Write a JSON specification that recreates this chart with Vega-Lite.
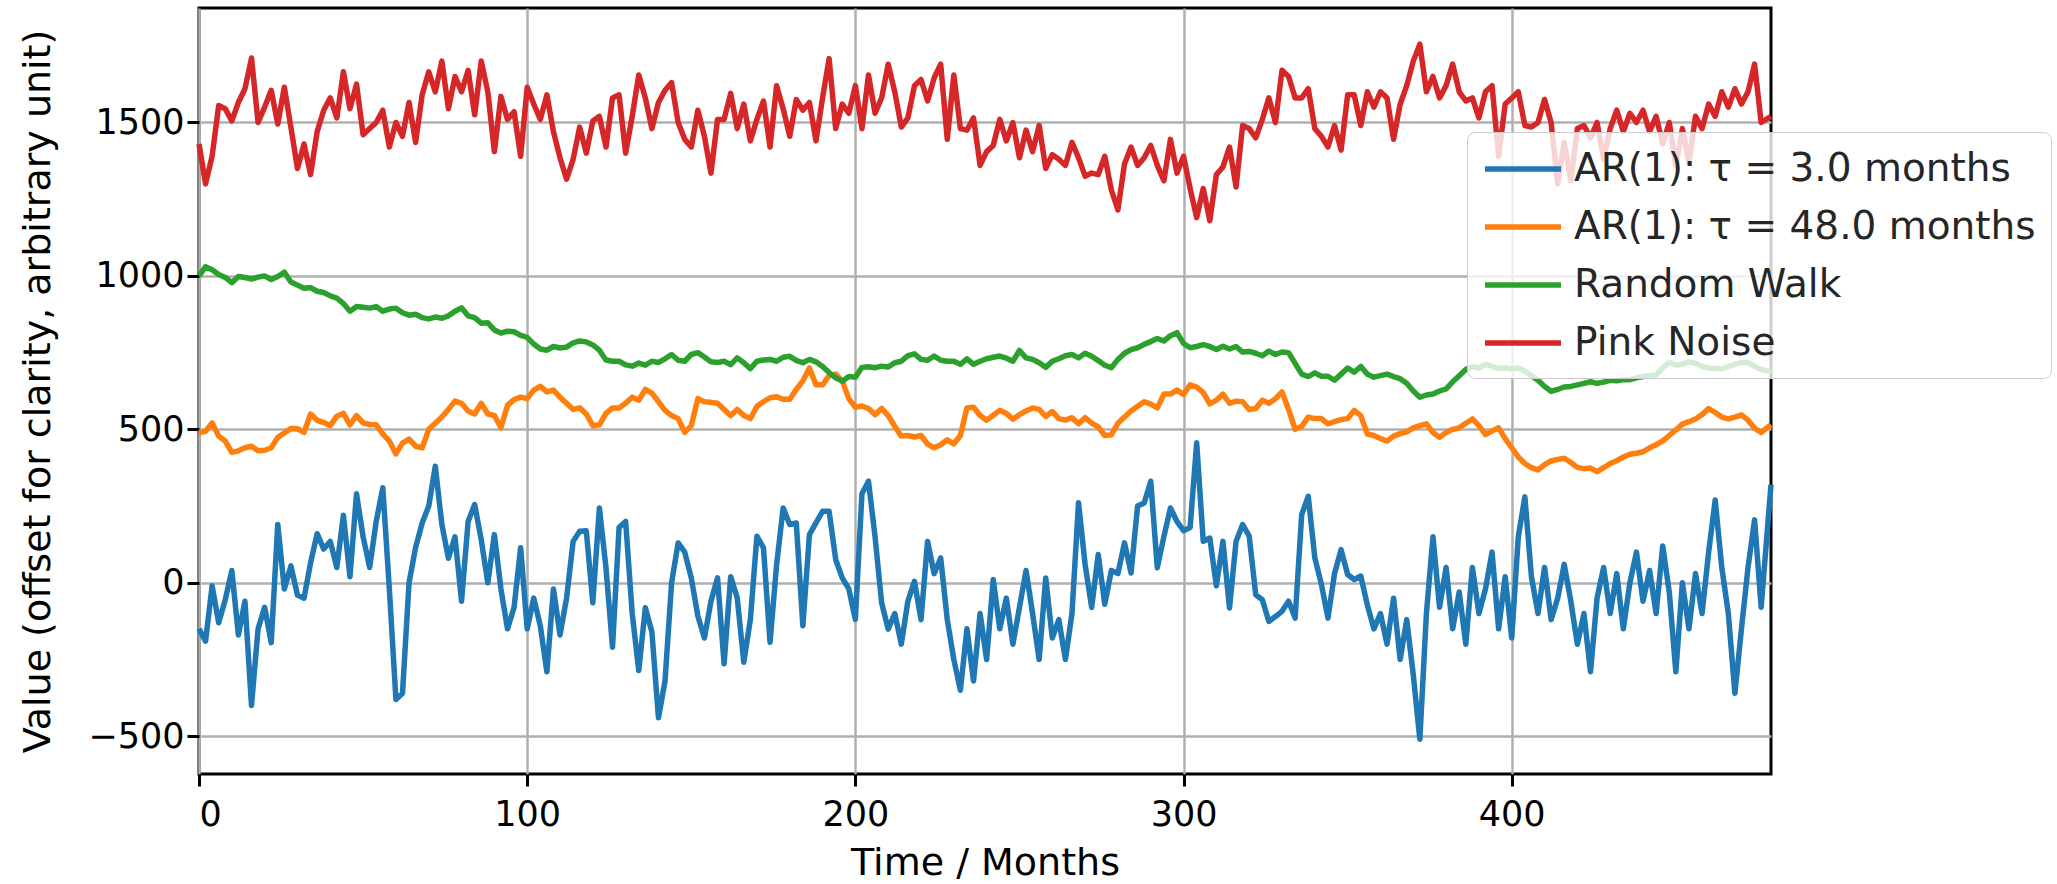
{
 "$schema": "https://vega.github.io/schema/vega-lite/v6.json",
 "width": 1572,
 "height": 766,
 "autosize": {"type": "none"},
 "padding": {"left": 199, "top": 8, "right": 286, "bottom": 110},
 "background": "white",
 "config": {
  "font": "DejaVu Sans",
  "view": {"stroke": "black", "strokeWidth": 3},
  "axis": {"labelFont": "DejaVu Sans", "titleFont": "DejaVu Sans", "labelFontSize": 35, "titleFontSize": 38, "titleFontWeight": "normal", "labelColor": "black", "titleColor": "black", "tickColor": "black", "tickSize": 12, "tickWidth": 3, "gridColor": "#b0b0b0", "gridWidth": 2.5, "gridOpacity": 1, "domain": false, "labelPadding": 11}
 },
 "data": {"values": [
{"t":0,"ar3":-150,"ar48":490,"rw":1000,"pink":1430},
{"t":2,"ar3":-190,"ar48":494,"rw":1030,"pink":1300},
{"t":4,"ar3":-10,"ar48":521,"rw":1020,"pink":1390},
{"t":6,"ar3":-130,"ar48":478,"rw":1005,"pink":1555},
{"t":8,"ar3":-55,"ar48":462,"rw":995,"pink":1545},
{"t":10,"ar3":40,"ar48":425,"rw":978,"pink":1505},
{"t":12,"ar3":-170,"ar48":430,"rw":998,"pink":1565},
{"t":14,"ar3":-60,"ar48":440,"rw":995,"pink":1610},
{"t":16,"ar3":-400,"ar48":445,"rw":990,"pink":1710},
{"t":18,"ar3":-150,"ar48":430,"rw":996,"pink":1500},
{"t":20,"ar3":-80,"ar48":432,"rw":1000,"pink":1550},
{"t":22,"ar3":-195,"ar48":440,"rw":988,"pink":1605},
{"t":24,"ar3":190,"ar48":474,"rw":998,"pink":1495},
{"t":26,"ar3":-20,"ar48":488,"rw":1012,"pink":1615},
{"t":28,"ar3":55,"ar48":503,"rw":980,"pink":1485},
{"t":30,"ar3":-40,"ar48":502,"rw":970,"pink":1350},
{"t":32,"ar3":-50,"ar48":490,"rw":960,"pink":1430},
{"t":34,"ar3":65,"ar48":550,"rw":962,"pink":1330},
{"t":36,"ar3":160,"ar48":530,"rw":950,"pink":1470},
{"t":38,"ar3":110,"ar48":522,"rw":946,"pink":1540},
{"t":40,"ar3":135,"ar48":512,"rw":935,"pink":1580},
{"t":42,"ar3":50,"ar48":543,"rw":928,"pink":1515},
{"t":44,"ar3":220,"ar48":552,"rw":910,"pink":1665},
{"t":46,"ar3":20,"ar48":515,"rw":885,"pink":1545},
{"t":48,"ar3":290,"ar48":545,"rw":900,"pink":1625},
{"t":50,"ar3":150,"ar48":521,"rw":898,"pink":1460},
{"t":52,"ar3":50,"ar48":516,"rw":895,"pink":1480},
{"t":54,"ar3":200,"ar48":515,"rw":900,"pink":1500},
{"t":56,"ar3":310,"ar48":485,"rw":885,"pink":1540},
{"t":58,"ar3":-20,"ar48":462,"rw":892,"pink":1420},
{"t":60,"ar3":-380,"ar48":420,"rw":895,"pink":1500},
{"t":62,"ar3":-360,"ar48":455,"rw":880,"pink":1455},
{"t":64,"ar3":0,"ar48":468,"rw":872,"pink":1565},
{"t":66,"ar3":115,"ar48":445,"rw":875,"pink":1435},
{"t":68,"ar3":195,"ar48":440,"rw":864,"pink":1590},
{"t":70,"ar3":250,"ar48":500,"rw":860,"pink":1665},
{"t":72,"ar3":380,"ar48":520,"rw":866,"pink":1600},
{"t":74,"ar3":190,"ar48":540,"rw":862,"pink":1700},
{"t":76,"ar3":80,"ar48":565,"rw":870,"pink":1545},
{"t":78,"ar3":150,"ar48":592,"rw":885,"pink":1650},
{"t":80,"ar3":-60,"ar48":585,"rw":896,"pink":1600},
{"t":82,"ar3":200,"ar48":560,"rw":870,"pink":1670},
{"t":84,"ar3":255,"ar48":550,"rw":864,"pink":1525},
{"t":86,"ar3":140,"ar48":585,"rw":846,"pink":1700},
{"t":88,"ar3":0,"ar48":550,"rw":847,"pink":1600},
{"t":90,"ar3":157,"ar48":545,"rw":824,"pink":1405},
{"t":92,"ar3":-20,"ar48":505,"rw":814,"pink":1585},
{"t":94,"ar3":-150,"ar48":578,"rw":820,"pink":1510},
{"t":96,"ar3":-80,"ar48":597,"rw":818,"pink":1535},
{"t":98,"ar3":114,"ar48":605,"rw":806,"pink":1390},
{"t":100,"ar3":-150,"ar48":600,"rw":800,"pink":1615},
{"t":102,"ar3":-50,"ar48":628,"rw":778,"pink":1560},
{"t":104,"ar3":-140,"ar48":640,"rw":762,"pink":1510},
{"t":106,"ar3":-290,"ar48":622,"rw":758,"pink":1590},
{"t":108,"ar3":-20,"ar48":628,"rw":770,"pink":1470},
{"t":110,"ar3":-170,"ar48":605,"rw":765,"pink":1385},
{"t":112,"ar3":-50,"ar48":585,"rw":768,"pink":1315},
{"t":114,"ar3":135,"ar48":565,"rw":782,"pink":1380},
{"t":116,"ar3":168,"ar48":570,"rw":788,"pink":1485},
{"t":118,"ar3":170,"ar48":550,"rw":785,"pink":1400},
{"t":120,"ar3":-65,"ar48":512,"rw":775,"pink":1505},
{"t":122,"ar3":244,"ar48":515,"rw":758,"pink":1520},
{"t":124,"ar3":50,"ar48":552,"rw":726,"pink":1420},
{"t":126,"ar3":-210,"ar48":570,"rw":722,"pink":1580},
{"t":128,"ar3":180,"ar48":570,"rw":722,"pink":1590},
{"t":130,"ar3":200,"ar48":585,"rw":710,"pink":1400},
{"t":132,"ar3":-100,"ar48":605,"rw":706,"pink":1520},
{"t":134,"ar3":-286,"ar48":595,"rw":716,"pink":1655},
{"t":136,"ar3":-81,"ar48":630,"rw":709,"pink":1580},
{"t":138,"ar3":-160,"ar48":618,"rw":722,"pink":1480},
{"t":140,"ar3":-440,"ar48":590,"rw":718,"pink":1565},
{"t":142,"ar3":-320,"ar48":562,"rw":730,"pink":1605},
{"t":144,"ar3":0,"ar48":545,"rw":744,"pink":1630},
{"t":146,"ar3":130,"ar48":535,"rw":725,"pink":1500},
{"t":148,"ar3":100,"ar48":490,"rw":722,"pink":1445},
{"t":150,"ar3":16,"ar48":512,"rw":744,"pink":1420},
{"t":152,"ar3":-108,"ar48":600,"rw":750,"pink":1540},
{"t":154,"ar3":-180,"ar48":590,"rw":736,"pink":1455},
{"t":156,"ar3":-60,"ar48":588,"rw":720,"pink":1335},
{"t":158,"ar3":16,"ar48":585,"rw":718,"pink":1510},
{"t":160,"ar3":-264,"ar48":565,"rw":722,"pink":1510},
{"t":162,"ar3":20,"ar48":545,"rw":711,"pink":1595},
{"t":164,"ar3":-49,"ar48":565,"rw":733,"pink":1480},
{"t":166,"ar3":-259,"ar48":545,"rw":717,"pink":1560},
{"t":168,"ar3":-120,"ar48":535,"rw":698,"pink":1440},
{"t":170,"ar3":152,"ar48":575,"rw":722,"pink":1510},
{"t":172,"ar3":114,"ar48":590,"rw":726,"pink":1570},
{"t":174,"ar3":-194,"ar48":603,"rw":728,"pink":1420},
{"t":176,"ar3":59,"ar48":606,"rw":722,"pink":1620},
{"t":178,"ar3":244,"ar48":598,"rw":735,"pink":1545},
{"t":180,"ar3":190,"ar48":598,"rw":738,"pink":1455},
{"t":182,"ar3":195,"ar48":630,"rw":725,"pink":1575},
{"t":184,"ar3":-140,"ar48":658,"rw":717,"pink":1540},
{"t":186,"ar3":157,"ar48":700,"rw":728,"pink":1565},
{"t":188,"ar3":195,"ar48":645,"rw":720,"pink":1440},
{"t":190,"ar3":233,"ar48":645,"rw":705,"pink":1580},
{"t":192,"ar3":233,"ar48":675,"rw":685,"pink":1708},
{"t":194,"ar3":76,"ar48":680,"rw":668,"pink":1480},
{"t":196,"ar3":16,"ar48":658,"rw":657,"pink":1560},
{"t":198,"ar3":-20,"ar48":600,"rw":672,"pink":1530},
{"t":200,"ar3":-119,"ar48":572,"rw":670,"pink":1620},
{"t":202,"ar3":290,"ar48":576,"rw":702,"pink":1480},
{"t":204,"ar3":331,"ar48":568,"rw":704,"pink":1655},
{"t":206,"ar3":150,"ar48":548,"rw":701,"pink":1530},
{"t":208,"ar3":-65,"ar48":568,"rw":706,"pink":1580},
{"t":210,"ar3":-151,"ar48":545,"rw":703,"pink":1690},
{"t":212,"ar3":-100,"ar48":510,"rw":717,"pink":1600},
{"t":214,"ar3":-200,"ar48":478,"rw":722,"pink":1485},
{"t":216,"ar3":-60,"ar48":480,"rw":740,"pink":1515},
{"t":218,"ar3":5,"ar48":475,"rw":746,"pink":1620},
{"t":220,"ar3":-120,"ar48":480,"rw":728,"pink":1640},
{"t":222,"ar3":135,"ar48":452,"rw":725,"pink":1570},
{"t":224,"ar3":30,"ar48":440,"rw":739,"pink":1645},
{"t":226,"ar3":81,"ar48":450,"rw":725,"pink":1690},
{"t":228,"ar3":-120,"ar48":466,"rw":722,"pink":1445},
{"t":230,"ar3":-250,"ar48":453,"rw":722,"pink":1655},
{"t":232,"ar3":-350,"ar48":480,"rw":712,"pink":1480},
{"t":234,"ar3":-150,"ar48":570,"rw":730,"pink":1475},
{"t":236,"ar3":-320,"ar48":572,"rw":712,"pink":1515},
{"t":238,"ar3":-100,"ar48":545,"rw":722,"pink":1360},
{"t":240,"ar3":-250,"ar48":530,"rw":730,"pink":1405},
{"t":242,"ar3":11,"ar48":546,"rw":735,"pink":1425},
{"t":244,"ar3":-150,"ar48":562,"rw":739,"pink":1510},
{"t":246,"ar3":-50,"ar48":552,"rw":732,"pink":1440},
{"t":248,"ar3":-200,"ar48":533,"rw":722,"pink":1500},
{"t":250,"ar3":-80,"ar48":548,"rw":757,"pink":1385},
{"t":252,"ar3":40,"ar48":560,"rw":733,"pink":1475},
{"t":254,"ar3":-100,"ar48":570,"rw":728,"pink":1405},
{"t":256,"ar3":-250,"ar48":565,"rw":717,"pink":1490},
{"t":258,"ar3":16,"ar48":542,"rw":702,"pink":1350},
{"t":260,"ar3":-180,"ar48":558,"rw":722,"pink":1395},
{"t":262,"ar3":-120,"ar48":535,"rw":730,"pink":1380},
{"t":264,"ar3":-250,"ar48":530,"rw":740,"pink":1360},
{"t":266,"ar3":-100,"ar48":538,"rw":744,"pink":1435},
{"t":268,"ar3":261,"ar48":518,"rw":733,"pink":1385},
{"t":270,"ar3":60,"ar48":538,"rw":748,"pink":1325},
{"t":272,"ar3":-80,"ar48":520,"rw":738,"pink":1335},
{"t":274,"ar3":92,"ar48":508,"rw":724,"pink":1330},
{"t":276,"ar3":-70,"ar48":480,"rw":709,"pink":1390},
{"t":278,"ar3":40,"ar48":482,"rw":701,"pink":1280},
{"t":280,"ar3":30,"ar48":520,"rw":728,"pink":1215},
{"t":282,"ar3":130,"ar48":540,"rw":748,"pink":1365},
{"t":284,"ar3":32,"ar48":560,"rw":760,"pink":1420},
{"t":286,"ar3":250,"ar48":575,"rw":766,"pink":1360},
{"t":288,"ar3":260,"ar48":590,"rw":777,"pink":1385},
{"t":290,"ar3":331,"ar48":582,"rw":786,"pink":1425},
{"t":292,"ar3":49,"ar48":570,"rw":796,"pink":1360},
{"t":294,"ar3":150,"ar48":615,"rw":788,"pink":1310},
{"t":296,"ar3":244,"ar48":615,"rw":805,"pink":1445},
{"t":298,"ar3":200,"ar48":628,"rw":815,"pink":1335},
{"t":300,"ar3":170,"ar48":614,"rw":780,"pink":1390},
{"t":302,"ar3":180,"ar48":645,"rw":766,"pink":1285},
{"t":304,"ar3":456,"ar48":638,"rw":770,"pink":1190},
{"t":306,"ar3":135,"ar48":620,"rw":776,"pink":1285},
{"t":308,"ar3":146,"ar48":583,"rw":770,"pink":1180},
{"t":310,"ar3":-10,"ar48":595,"rw":760,"pink":1330},
{"t":312,"ar3":135,"ar48":615,"rw":771,"pink":1355},
{"t":314,"ar3":-82,"ar48":585,"rw":762,"pink":1420},
{"t":316,"ar3":135,"ar48":592,"rw":770,"pink":1290},
{"t":318,"ar3":190,"ar48":590,"rw":752,"pink":1490},
{"t":320,"ar3":152,"ar48":565,"rw":754,"pink":1480},
{"t":322,"ar3":-39,"ar48":568,"rw":748,"pink":1450},
{"t":324,"ar3":-55,"ar48":595,"rw":740,"pink":1510},
{"t":326,"ar3":-126,"ar48":585,"rw":755,"pink":1580},
{"t":328,"ar3":-110,"ar48":600,"rw":744,"pink":1500},
{"t":330,"ar3":-93,"ar48":622,"rw":752,"pink":1670},
{"t":332,"ar3":-60,"ar48":565,"rw":750,"pink":1650},
{"t":334,"ar3":-115,"ar48":500,"rw":715,"pink":1580},
{"t":336,"ar3":222,"ar48":510,"rw":680,"pink":1580},
{"t":338,"ar3":282,"ar48":540,"rw":672,"pink":1610},
{"t":340,"ar3":81,"ar48":535,"rw":684,"pink":1480},
{"t":342,"ar3":-5,"ar48":535,"rw":673,"pink":1455},
{"t":344,"ar3":-115,"ar48":518,"rw":673,"pink":1420},
{"t":346,"ar3":30,"ar48":525,"rw":660,"pink":1490},
{"t":348,"ar3":108,"ar48":532,"rw":680,"pink":1410},
{"t":350,"ar3":27,"ar48":535,"rw":700,"pink":1590},
{"t":352,"ar3":11,"ar48":562,"rw":686,"pink":1590},
{"t":354,"ar3":22,"ar48":545,"rw":705,"pink":1490},
{"t":356,"ar3":-72,"ar48":485,"rw":680,"pink":1600},
{"t":358,"ar3":-150,"ar48":480,"rw":670,"pink":1550},
{"t":360,"ar3":-100,"ar48":470,"rw":675,"pink":1600},
{"t":362,"ar3":-200,"ar48":462,"rw":680,"pink":1580},
{"t":364,"ar3":-50,"ar48":478,"rw":672,"pink":1445},
{"t":366,"ar3":-250,"ar48":486,"rw":665,"pink":1560},
{"t":368,"ar3":-120,"ar48":492,"rw":650,"pink":1620},
{"t":370,"ar3":-300,"ar48":505,"rw":625,"pink":1700},
{"t":372,"ar3":-510,"ar48":512,"rw":605,"pink":1755},
{"t":374,"ar3":-100,"ar48":518,"rw":612,"pink":1600},
{"t":376,"ar3":150,"ar48":490,"rw":615,"pink":1650},
{"t":378,"ar3":-80,"ar48":474,"rw":625,"pink":1580},
{"t":380,"ar3":50,"ar48":490,"rw":632,"pink":1620},
{"t":382,"ar3":-150,"ar48":500,"rw":655,"pink":1690},
{"t":384,"ar3":-30,"ar48":505,"rw":675,"pink":1600},
{"t":386,"ar3":-200,"ar48":520,"rw":695,"pink":1570},
{"t":388,"ar3":50,"ar48":534,"rw":705,"pink":1580},
{"t":390,"ar3":-100,"ar48":512,"rw":700,"pink":1515},
{"t":392,"ar3":-20,"ar48":483,"rw":712,"pink":1600},
{"t":394,"ar3":100,"ar48":495,"rw":705,"pink":1620},
{"t":396,"ar3":-150,"ar48":505,"rw":698,"pink":1390},
{"t":398,"ar3":20,"ar48":470,"rw":700,"pink":1560},
{"t":400,"ar3":-180,"ar48":440,"rw":697,"pink":1580},
{"t":402,"ar3":150,"ar48":410,"rw":700,"pink":1600},
{"t":404,"ar3":280,"ar48":389,"rw":690,"pink":1490},
{"t":406,"ar3":20,"ar48":375,"rw":675,"pink":1485},
{"t":408,"ar3":-100,"ar48":368,"rw":660,"pink":1500},
{"t":410,"ar3":50,"ar48":385,"rw":640,"pink":1575},
{"t":412,"ar3":-120,"ar48":397,"rw":624,"pink":1500},
{"t":414,"ar3":-50,"ar48":402,"rw":630,"pink":1300},
{"t":416,"ar3":60,"ar48":406,"rw":638,"pink":1435},
{"t":418,"ar3":-60,"ar48":392,"rw":640,"pink":1310},
{"t":420,"ar3":-200,"ar48":376,"rw":645,"pink":1480},
{"t":422,"ar3":-100,"ar48":372,"rw":650,"pink":1490},
{"t":424,"ar3":-290,"ar48":374,"rw":655,"pink":1450},
{"t":426,"ar3":-50,"ar48":362,"rw":650,"pink":1500},
{"t":428,"ar3":50,"ar48":375,"rw":654,"pink":1380},
{"t":430,"ar3":-100,"ar48":389,"rw":660,"pink":1480},
{"t":432,"ar3":30,"ar48":398,"rw":658,"pink":1540},
{"t":434,"ar3":-150,"ar48":410,"rw":662,"pink":1470},
{"t":436,"ar3":0,"ar48":419,"rw":662,"pink":1530},
{"t":438,"ar3":100,"ar48":422,"rw":668,"pink":1500},
{"t":440,"ar3":-60,"ar48":427,"rw":672,"pink":1540},
{"t":442,"ar3":40,"ar48":440,"rw":675,"pink":1470},
{"t":444,"ar3":-100,"ar48":450,"rw":678,"pink":1520},
{"t":446,"ar3":120,"ar48":462,"rw":700,"pink":1430},
{"t":448,"ar3":-30,"ar48":480,"rw":718,"pink":1500},
{"t":450,"ar3":-290,"ar48":498,"rw":710,"pink":1360},
{"t":452,"ar3":0,"ar48":517,"rw":712,"pink":1480},
{"t":454,"ar3":-150,"ar48":525,"rw":720,"pink":1370},
{"t":456,"ar3":30,"ar48":534,"rw":715,"pink":1520},
{"t":458,"ar3":-100,"ar48":548,"rw":705,"pink":1480},
{"t":460,"ar3":100,"ar48":568,"rw":700,"pink":1560},
{"t":462,"ar3":270,"ar48":555,"rw":698,"pink":1520},
{"t":464,"ar3":50,"ar48":540,"rw":697,"pink":1600},
{"t":466,"ar3":-100,"ar48":534,"rw":705,"pink":1550},
{"t":468,"ar3":-360,"ar48":540,"rw":712,"pink":1610},
{"t":470,"ar3":-150,"ar48":547,"rw":718,"pink":1560},
{"t":472,"ar3":50,"ar48":530,"rw":718,"pink":1600},
{"t":474,"ar3":205,"ar48":504,"rw":705,"pink":1690},
{"t":476,"ar3":-80,"ar48":490,"rw":695,"pink":1500},
{"t":479,"ar3":320,"ar48":515,"rw":688,"pink":1520}
 ]},
 "transform": [{"fold": ["ar3", "ar48", "rw", "pink"], "as": ["series", "value"]}],
 "mark": {"type": "line", "strokeWidth": 5.5, "strokeJoin": "round"},
 "encoding": {
  "x": {"field": "t", "type": "quantitative", "scale": {"domain": [0, 479], "nice": false, "zero": false}, "axis": {"values": [0, 100, 200, 300, 400], "title": "Time / Months", "titlePadding": 12, "format": "d"}},
  "y": {"field": "value", "type": "quantitative", "scale": {"domain": [-623, 1873], "nice": false, "zero": false}, "axis": {"values": [-500, 0, 500, 1000, 1500], "title": "Value (offset for clarity, arbitrary unit)", "titlePadding": 30, "format": "d", "labelPadding": 3}},
  "color": {"field": "series", "type": "nominal", "scale": {"domain": ["ar3", "ar48", "rw", "pink"], "range": ["#1f77b4", "#ff7f0e", "#2ca02c", "#d62728"]},
   "legend": {"title": null, "orient": "none", "legendX": 1268, "legendY": 124, "labelExpr": "datum.value == 'ar3' ? 'AR(1): τ = 3.0 months' : datum.value == 'ar48' ? 'AR(1): τ = 48.0 months' : datum.value == 'rw' ? 'Random Walk' : 'Pink Noise'", "labelFont": "DejaVu Sans", "labelFontSize": 39, "labelLimit": 0, "labelColor": "#262626", "symbolType": "M-1,0H3", "symbolStrokeWidth": 5.5, "symbolSize": 1444, "symbolFillColor": "transparent", "rowPadding": 16, "padding": 15, "fillColor": "rgba(255,255,255,0.8)", "strokeColor": "#cccccc", "cornerRadius": 8, "labelOffset": 48}}
 }
}
